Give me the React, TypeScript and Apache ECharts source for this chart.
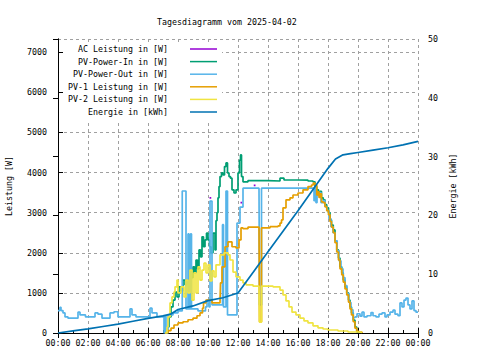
import React, { useEffect, useRef } from "react";
import * as echarts from "echarts";

const TITLE = "Tagesdiagramm vom 2025-04-02";
const X_TICK_LABELS = ["00:00", "02:00", "04:00", "06:00", "08:00", "10:00", "12:00", "14:00", "16:00", "18:00", "20:00", "22:00", "00:00"];
const SERIES_NAMES = ["AC Leistung in [W]", "PV-Power-In in [W]", "PV-Power-Out in [W]", "PV-1 Leistung in [W]", "PV-2 Leistung in [W]", "Energie in [kWh]"];
const COLORS = ["#9400d3", "#009e73", "#56b4e9", "#e69f00", "#f0e442", "#0072b2"];

// time in minutes since 00:00 (AC mostly hidden below PV-Power-Out; only short visible bits)
const T_AC = [606, 613, 614, 730, 737, 738, 783, 790];
const V_AC = [3370, 3370, null, 3250, 3250, null, 3680, 3680];

const T_IN = [430, 436, 444, 452, 460, 468, 476, 484, 492, 500, 508, 516, 524, 532, 540, 546, 552, 558, 564, 570, 576, 582, 588, 594, 600, 606, 612, 620, 628, 632, 636, 640, 644, 648, 654, 660, 666, 672, 678, 684, 690, 696, 704, 712, 720, 726, 730, 734, 740, 760, 840, 888, 904, 960, 1000, 1020, 1028, 1035, 1042, 1048, 1054, 1061, 1068, 1075, 1082, 1088, 1094, 1101, 1108, 1115, 1122, 1128, 1135, 1141, 1148, 1155, 1162, 1168, 1174, 1181, 1188, 1195, 1200];
const V_IN = [0, 150, 400, 650, 820, 1020, 900, 1150, 1050, 1320, 1200, 1320, 1450, 1380, 1650, 1500, 1820, 1600, 2070, 1900, 2400, 2150, 2320, 2490, 2320, 2150, 2000, 2490, 2070, 2800, 3000, 3370, 3650, 3900, 3990, 3940, 4150, 4240, 3990, 3900, 3860, 3570, 3490, 3570, 3990, 4310, 4440, 3900, 3770, 3800, 3790, 3860, 3815, 3810, 3790, 3770, 3650, 3570, 3490, 3530, 3370, 3320, 3200, 3120, 3000, 2820, 2690, 2570, 2300, 2070, 1870, 1650, 1500, 1320, 1150, 1000, 820, 650, 500, 320, 150, 25, 0];

const T_OUT = [0, 8, 12, 20, 28, 40, 72, 80, 88, 110, 148, 160, 176, 208, 224, 240, 288, 296, 312, 368, 376, 396, 420, 424, 428, 432, 440, 460, 480, 497, 512, 520, 524, 530, 534, 560, 590, 596, 604, 608, 616, 640, 658, 662, 672, 678, 712, 716, 728, 740, 804, 806, 814, 1020, 1024, 1028, 1032, 1036, 1044, 1052, 1060, 1068, 1076, 1084, 1092, 1100, 1108, 1116, 1124, 1132, 1140, 1148, 1156, 1164, 1172, 1180, 1188, 1196, 1208, 1216, 1224, 1236, 1252, 1260, 1272, 1284, 1296, 1308, 1316, 1328, 1340, 1348, 1360, 1368, 1376, 1384, 1392, 1400, 1408, 1416, 1424, 1432, 1440];
const V_OUT = [560, 640, 560, 500, 400, 370, 370, 520, 450, 400, 500, 470, 370, 500, 530, 400, 600, 450, 400, 620, 500, 400, 430, 0, 430, 0, 450, 500, 550, 3540, 600, 2470, 600, 2470, 600, 550, 650, 820, 650, 3290, 700, 700, 2700, 650, 3540, 450, 450, 2740, 3140, 3610, 3610, 700, 3610, 3610, 3300, 3600, 3250, 3450, 3500, 3250, 3300, 3150, 3050, 2850, 2650, 2500, 2300, 2050, 1800, 1600, 1380, 1180, 980, 760, 580, 380, 400, 480, 420, 520, 400, 430, 510, 430, 400, 470, 500, 400, 450, 520, 570, 470, 430, 750, 650, 820, 870, 700, 600, 800, 560, 520, 520];

const T_PV1 = [428, 440, 452, 464, 480, 500, 520, 540, 556, 568, 578, 582, 592, 600, 616, 648, 650, 656, 668, 680, 696, 712, 724, 732, 740, 760, 804, 806, 814, 848, 880, 888, 894, 900, 912, 928, 940, 960, 980, 1000, 1014, 1021, 1028, 1035, 1040, 1044, 1048, 1054, 1061, 1068, 1075, 1082, 1088, 1094, 1101, 1108, 1115, 1122, 1128, 1135, 1141, 1148, 1155, 1162, 1168, 1174, 1181, 1188, 1195, 1204, 1216];
const V_PV1 = [0, 60, 120, 200, 250, 280, 330, 370, 430, 500, 620, 750, 820, 820, 750, 750, 1250, 1650, 2150, 2270, 2150, 2120, 2320, 2620, 2600, 2640, 2620, 280, 2620, 2650, 2670, 2740, 2820, 3120, 3320, 3370, 3440, 3490, 3570, 3650, 3690, 3740, 3690, 3440, 3520, 3380, 3470, 3270, 3250, 3150, 3050, 2950, 2780, 2640, 2500, 2250, 2020, 1820, 1600, 1450, 1270, 1100, 950, 770, 600, 450, 280, 120, 40, 20, 0];

const T_PV2 = [428, 436, 440, 448, 456, 464, 468, 476, 480, 492, 504, 512, 520, 528, 536, 544, 552, 560, 568, 576, 584, 592, 600, 608, 616, 624, 632, 648, 664, 680, 688, 700, 712, 728, 740, 752, 780, 804, 806, 814, 860, 888, 900, 912, 924, 936, 952, 968, 984, 1000, 1020, 1040, 1060, 1080, 1120, 1160, 1200, 1216];
const V_PV2 = [0, 150, 400, 750, 900, 1020, 1150, 1320, 1000, 1150, 900, 1320, 1000, 1570, 820, 1500, 1000, 1650, 1320, 1570, 1740, 1500, 1700, 1300, 1550, 1400, 1700, 1950, 2000, 1950, 1820, 1520, 1400, 1320, 1250, 1200, 1170, 1170, 270, 1170, 1150, 1070, 950, 800, 650, 520, 450, 370, 300, 250, 180, 130, 100, 75, 50, 25, 15, 0];

const T_ENERGY = [0, 60, 120, 180, 240, 300, 360, 420, 450, 480, 540, 600, 660, 720, 780, 840, 900, 960, 1020, 1080, 1110, 1140, 1170, 1200, 1260, 1320, 1380, 1440];
const V_ENERGY = [0, 0.35, 0.7, 1.1, 1.5, 2.0, 2.5, 2.9, 3.2, 4.0, 4.6, 5.5, 6.0, 6.8, 10.3, 13.8, 17.3, 20.8, 24.4, 28.0, 29.6, 30.3, 30.5, 30.7, 31.1, 31.5, 32.0, 32.6];

const FONT = "DejaVu Sans Mono";
const FS = 8.3;

function pairs(t: number[], v: (number | null)[]) {
  return t.map((x, i) => [x, v[i] === null ? "-" : v[i]]);
}

export default function App() {
  const ref = useRef<HTMLDivElement>(null);
  useEffect(() => {
    if (!ref.current) return;
    const chart = echarts.init(ref.current, null, { renderer: "svg" });
    const dataSets = [
      pairs(T_AC, V_AC),
      pairs(T_IN, V_IN),
      pairs(T_OUT, V_OUT),
      pairs(T_PV1, V_PV1),
      pairs(T_PV2, V_PV2),
      pairs(T_ENERGY, V_ENERGY),
    ];
    const gridLine = { show: true, lineStyle: { color: "#a0a0a0", type: [3, 3] as any, width: 1 } };
    const legendGraphics: any[] = [
      { type: "rect", z: 1, shape: { x: 63, y: 44, width: 159, height: 76 }, style: { fill: "#fff" } },
    ];
    SERIES_NAMES.forEach((name, i) => {
      const y = 49 + i * 12.6;
      legendGraphics.push({
        type: "text", z: 2, x: 168, y,
        style: { text: name, fill: "#000", font: `${FS}px ${FONT}`, align: "right", verticalAlign: "middle" },
      });
      legendGraphics.push({
        type: "line", z: 2, shape: { x1: 190, y1: y, x2: 217, y2: y },
        style: { stroke: COLORS[i], lineWidth: 1.5 },
      });
    });
    chart.setOption({
      animation: false,
      backgroundColor: "#fff",
      title: {
        text: TITLE, left: 152, top: 13,
        textStyle: { fontFamily: FONT, fontSize: FS, fontWeight: "normal", color: "#000" },
      },
      grid: { left: 58, right: 62, top: 39, bottom: 27, show: false, outerBoundsMode: "none", containLabel: false },
      xAxis: [
        {
          type: "value", min: 0, max: 1440, interval: 120,
          axisLine: { lineStyle: { color: "#000", width: 1 } },
          axisTick: { inside: true, length: 5, lineStyle: { color: "#000" } },
          minorTick: { show: true, splitNumber: 2, length: 3, lineStyle: { color: "#000" } },
          axisLabel: {
            margin: 6, color: "#000", fontFamily: FONT, fontSize: FS,
            formatter: (v: number) => X_TICK_LABELS[Math.round(v / 120)] ?? "",
          },
          splitLine: gridLine,
        },
        {
          type: "value", position: "top", min: 0, max: 1440, interval: 120,
          axisLine: { lineStyle: { color: "#000", width: 1 } },
          axisTick: { inside: true, length: 5, lineStyle: { color: "#000" } },
          axisLabel: { show: false },
          splitLine: { show: false },
        },
      ],
      yAxis: [
        {
          type: "value", min: 0, max: 7330, interval: 1000,
          name: "Leistung [W]", nameLocation: "middle", nameRotate: 90, nameGap: 45,
          nameTextStyle: { fontFamily: FONT, fontSize: FS, color: "#000" },
          axisLine: { show: true, lineStyle: { color: "#000", width: 1 } },
          axisTick: { show: true, inside: true, length: 5, lineStyle: { color: "#000" } },
          axisLabel: {
            margin: 11, color: "#000", fontFamily: FONT, fontSize: FS, showMaxLabel: false,
            formatter: (v: number) => String(v),
          },
          splitLine: gridLine,
        },
        {
          type: "value", min: 0, max: 50, interval: 10, position: "right",
          name: "Energie [kWh]", nameLocation: "middle", nameRotate: 90, nameGap: 30,
          nameTextStyle: { fontFamily: FONT, fontSize: FS, color: "#000" },
          axisLine: { show: true, lineStyle: { color: "#000", width: 1 } },
          axisTick: { show: true, inside: true, length: 5, lineStyle: { color: "#000" } },
          axisLabel: { margin: 10, color: "#000", fontFamily: FONT, fontSize: FS, formatter: (v: number) => String(v) },
          splitLine: { show: false },
        },
      ],
      graphic: legendGraphics,
      series: dataSets.map((d, i) => ({
        name: SERIES_NAMES[i],
        type: "line",
        yAxisIndex: i === 5 ? 1 : 0,
        data: d,
        step: i === 5 ? false : "end",
        connectNulls: false,
        showSymbol: false,
        symbol: "none",
        lineStyle: { color: COLORS[i], width: 1.7 },
        itemStyle: { color: COLORS[i] },
        z: 2 + i,
      })),
    });
    return () => chart.dispose();
  }, []);
  return <div ref={ref} style={{ width: 480, height: 360, position: "fixed", left: 0, top: 0 }} />;
}
